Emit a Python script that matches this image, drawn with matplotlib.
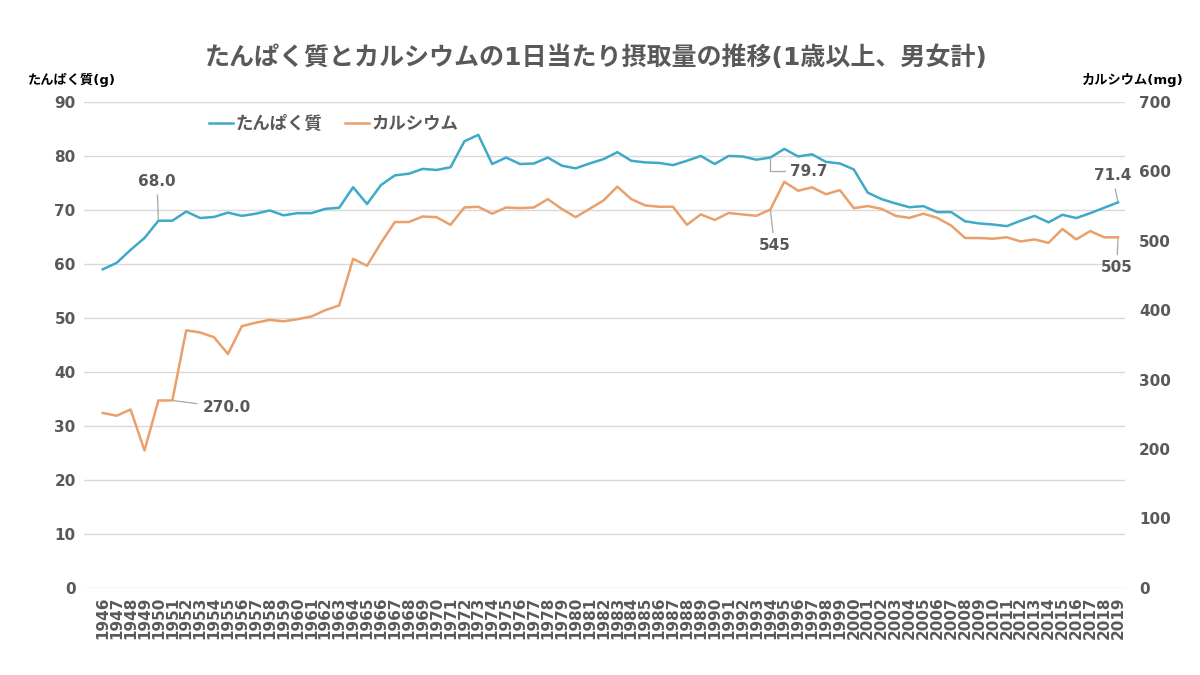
import matplotlib
matplotlib.use("Agg")
import matplotlib.pyplot as plt
import numpy as np

plt.rcParams['font.family'] = ['DejaVu Sans', 'Noto Sans CJK JP']
plt.rcParams['font.weight'] = 'bold'

years = list(range(1946, 2020))

# たんぱく質 (g)
protein = [59.0, 60.2, 62.6, 64.8, 68.0, 68.0, 69.7, 68.5, 68.7, 69.5,
           68.9, 69.3, 69.9, 69.0, 69.4, 69.4, 70.2, 70.4, 74.2, 71.1,
           74.6, 76.4, 76.7, 77.6, 77.4, 77.9, 82.7, 83.9, 78.5, 79.7,
           78.5, 78.6, 79.7, 78.2, 77.7, 78.6, 79.4, 80.7, 79.1, 78.8,
           78.7, 78.3, 79.1, 80.0, 78.5, 80.0, 79.9, 79.3, 79.7, 81.3,
           79.9, 80.3, 78.9, 78.6, 77.5, 73.2, 72.0, 71.2, 70.5, 70.7,
           69.6, 69.6, 67.9, 67.5, 67.3, 67.0, 68.0, 68.9, 67.7, 69.1,
           68.5, 69.4, 70.4, 71.4]

# カルシウム (mg)
calcium = [252, 248, 257, 198, 270, 270, 371, 368, 361, 337,
           377, 382, 386, 384, 387, 391, 400, 407, 474, 464,
           497, 527, 527, 535, 534, 523, 548, 549, 539, 548,
           547, 548, 560, 546, 534, 546, 558, 578, 560, 551,
           549, 549, 523, 538, 530, 540, 538, 536, 545, 585,
           572, 577, 567, 573, 547, 550, 546, 536, 533, 539,
           533, 522, 504, 504, 503, 505, 499, 502, 497, 517,
           502, 514, 505, 505]

title = "たんぱく質とカルシウムの1日当たり摂取量の推移(1歳以上、男女計)"
txt = "#595959"
blue = "#3FA9C8"
orange = "#E9A06B"

fig = plt.figure(figsize=(12, 6.75), dpi=100)
ax = fig.add_axes([0.07, 0.129, 0.8675, 0.72])
ax2 = ax.twinx()

ax.plot(years, protein, color=blue, lw=1.8, label="たんぱく質", zorder=3)
ax2.plot(years, calcium, color=orange, lw=1.8, label="カルシウム", zorder=3)

ax.set_xlim(1946 - 1.35, 2019 + 0.5)
ax.set_ylim(0, 90)
ax2.set_ylim(0, 700)
ax.set_yticks(np.arange(0, 91, 10))
ax2.set_yticks(np.arange(0, 701, 100))
ax.set_xticks(years)
ax.set_xticklabels([str(y) for y in years], rotation=90, fontsize=10.5,
                   fontweight='bold', color=txt)
ax.grid(axis='y', color='#D9D9D9', lw=1)
ax.set_axisbelow(True)
for a in (ax, ax2):
    for s in a.spines.values():
        s.set_visible(False)
    a.tick_params(length=0, labelsize=11, labelcolor=txt)
ax.tick_params(axis='y', pad=6)
ax2.tick_params(axis='y', pad=10)
ax.tick_params(axis='x', pad=6)
for lab in ax.get_yticklabels() + ax2.get_yticklabels():
    lab.set_fontweight('bold')

fig.text(0.497, 0.915, title, ha='center', va='center', fontsize=18,
         fontweight='bold', color=txt)
fig.text(0.023, 0.882, "たんぱく質(g)", ha='left', va='center', fontsize=9.5,
         fontweight='bold', color='black')
fig.text(0.986, 0.882, "カルシウム(mg)", ha='right', va='center', fontsize=9.5,
         fontweight='bold', color='black')

h1, l1 = ax.get_legend_handles_labels()
h2, l2 = ax2.get_legend_handles_labels()
leg = ax.legend(h1 + h2, l1 + l2, loc='center', bbox_to_anchor=(0.24, 0.955),
                ncol=2, frameon=False, handlelength=1.4, handletextpad=0.15,
                columnspacing=1.3, prop={'size': 12.5, 'weight': 'bold'})
for t in leg.get_texts():
    t.set_color(txt)

lead = dict(arrowstyle='-', color='#A6A6A6', lw=0.9, shrinkA=2, shrinkB=1)
akw = dict(textcoords='offset points', ha='center', va='center', fontsize=11,
           fontweight='bold', color=txt, arrowprops=lead, zorder=5)

i50 = years.index(1950)
i51 = years.index(1951)
i94 = years.index(1994)
i19 = years.index(2019)
ax.annotate(f"{protein[i50]:.1f}", (1950, protein[i50]), xytext=(-1, 28), **akw)
ax2.annotate(f"{calcium[i51]:.1f}", (1951, calcium[i51]), xytext=(39, -5), **akw)
ax.annotate(f"{protein[i94]:.1f}", (1994, protein[i94]), xytext=(28, -10),
            **{**akw, 'arrowprops': {**lead, 'connectionstyle': 'angle,angleA=0,angleB=90,rad=0'}})
ax2.annotate(f"{calcium[i94]}", (1994, calcium[i94]), xytext=(3, -26), **akw)
ax.annotate(f"{protein[i19]:.1f}", (2019, protein[i19]), xytext=(-4, 19), **akw)
ax2.annotate(f"{calcium[i19]}", (2019, calcium[i19]), xytext=(-1, -22), **akw)

fig.savefig("out.png", dpi=100)
